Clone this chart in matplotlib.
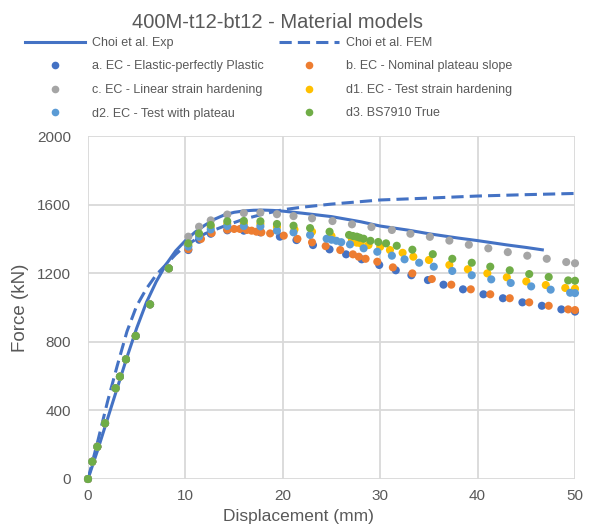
import numpy as np
import matplotlib
matplotlib.use("Agg")
import matplotlib.pyplot as plt
from matplotlib.lines import Line2D

plt.rcParams['font.family'] = ['Liberation Sans', 'DejaVu Sans']

# ---------------- data ----------------
exp_x = [0, 1, 2, 3, 4, 5, 6, 7, 8, 9, 10, 11, 12, 13, 14, 15, 16, 17, 18, 19, 20,
         22, 25, 28, 30, 33, 35, 38, 40, 43, 45, 46.8]
exp_F = [0, 170, 350, 530, 710, 880, 1030, 1150, 1250, 1330, 1390, 1440, 1480, 1515,
         1540, 1555, 1563, 1567, 1568, 1566, 1562, 1550, 1530, 1500, 1475, 1450, 1430,
         1405, 1390, 1365, 1350, 1335]

fem_x = [0, 1, 2, 3, 4, 5, 6, 7, 8, 9, 10, 12, 14, 16, 18, 20, 22, 25, 30, 35, 40, 45, 50]
fem_F = [0, 220, 450, 660, 860, 1010, 1110, 1190, 1250, 1310, 1360, 1430, 1475, 1515,
         1545, 1570, 1585, 1603, 1627, 1638, 1650, 1658, 1665]

rise_x = [0, 0.44, 0.96, 1.75, 2.84, 3.28, 3.9, 4.9, 6.37, 8.3]
rise_F = [0, 101, 188, 325, 529, 597, 698, 834, 1018, 1228]

a_x = [10.3, 11.4, 12.6, 14.3, 16.0, 17.7, 19.7, 21.4, 23.1, 24.8, 26.5, 28.1, 29.9,
       31.6, 33.2, 34.9, 36.5, 38.5, 40.6, 42.6, 44.6, 46.6, 48.6, 50.0]
a_F = [1335, 1395, 1430, 1450, 1448, 1438, 1413, 1393, 1364, 1339, 1310, 1281, 1248,
       1217, 1188, 1160, 1133, 1106, 1077, 1054, 1030, 1010, 989, 976]

b_x = [10.3, 11.6, 12.7, 14.3, 15.0, 15.6, 16.3, 16.8, 17.3, 17.8, 18.7, 20.1, 21.5,
       23.0, 24.4, 25.9, 27.2, 27.8, 28.5, 29.7, 31.3, 33.3, 35.3, 37.3, 39.3, 41.3,
       43.3, 45.3, 47.3, 49.3, 50.0]
b_F = [1340, 1400, 1434, 1454, 1458, 1458, 1452, 1448, 1442, 1438, 1432, 1419, 1400,
       1380, 1358, 1335, 1310, 1296, 1284, 1267, 1234, 1199, 1166, 1133, 1106, 1077,
       1054, 1030, 1010, 989, 985]

c_x = [10.3, 11.4, 12.6, 14.3, 16.0, 17.7, 19.4, 21.1, 23.0, 25.1, 27.1, 29.1, 31.2,
       33.1, 35.1, 37.1, 39.1, 41.1, 43.1, 45.1, 47.1, 49.1, 50.0]
c_F = [1413, 1471, 1508, 1542, 1551, 1554, 1544, 1533, 1520, 1504, 1485, 1469, 1452,
       1430, 1412, 1390, 1366, 1345, 1323, 1302, 1284, 1265, 1258]

d1_x = [10.3, 11.4, 12.6, 14.3, 16.0, 17.7, 19.4, 21.2, 23.0, 25.0, 27.1, 27.6, 28.0,
        28.8, 30.0, 31.0, 32.3, 33.4, 35.0, 37.1, 39.0, 41.0, 43.0, 45.0, 47.0, 49.0, 50.0]
d1_F = [1362, 1420, 1470, 1488, 1490, 1488, 1470, 1455, 1442, 1417, 1393, 1378, 1374,
        1364, 1354, 1335, 1319, 1296, 1277, 1248, 1223, 1199, 1176, 1152, 1131, 1114, 1110]

d2_x = [10.3, 11.4, 12.6, 14.3, 16.0, 17.7, 19.4, 21.1, 22.8, 24.5, 25.0, 25.5, 26.0,
        26.9, 28.3, 29.7, 31.2, 32.5, 34.0, 35.5, 37.4, 39.4, 41.4, 43.4, 45.5, 47.5,
        49.5, 50.0]
d2_F = [1355, 1413, 1455, 1475, 1475, 1473, 1448, 1438, 1423, 1401, 1395, 1389, 1381,
        1368, 1345, 1325, 1302, 1281, 1261, 1238, 1213, 1188, 1164, 1143, 1123, 1104,
        1086, 1084]

d3_x = [10.3, 11.4, 12.6, 14.3, 16.0, 17.7, 19.4, 21.1, 22.8, 24.8, 26.8, 27.2, 27.6,
        27.9, 28.3, 29.0, 29.8, 30.6, 31.7, 33.3, 35.4, 37.4, 39.4, 41.3, 43.3, 45.3,
        47.3, 49.3, 50.0]
d3_F = [1374, 1432, 1481, 1503, 1505, 1503, 1487, 1477, 1463, 1442, 1423, 1417, 1413,
        1407, 1401, 1389, 1382, 1374, 1360, 1337, 1311, 1284, 1261, 1238, 1217, 1195,
        1178, 1158, 1156]

labels = ["Choi et al. Exp", "Choi et al. FEM",
          "a. EC - Elastic-perfectly Plastic", "b. EC - Nominal plateau slope",
          "c. EC - Linear strain hardening", "d1. EC - Test strain hardening",
          "d2. EC - Test with plateau", "d3. BS7910 True"]
x_ticks = [0, 10, 20, 30, 40, 50]
y_ticks = [0, 400, 800, 1200, 1600, 2000]
title = "400M-t12-bt12 - Material models"

# ---------------- style ----------------
line_c = "#4472C4"
colors = ["#4472C4", "#ED7D31", "#A5A5A5", "#FFC000", "#5B9BD5", "#70AD47"]
txt_c = "#595959"

fig = plt.figure(figsize=(5.91, 5.25), dpi=100)
ax = fig.add_axes([88/591, 46/525, 487/591, 343/525])

ax.plot(exp_x, exp_F, color=line_c, lw=2.2, solid_capstyle='butt', zorder=3)
ax.plot(fem_x, fem_F, color=line_c, lw=2.2, dashes=(4, 2), zorder=3)

series = [(a_x, a_F), (b_x, b_F), (c_x, c_F), (d1_x, d1_F), (d2_x, d2_F), (d3_x, d3_F)]
for i, (sx, sF) in enumerate(series):
    xs = list(rise_x) + list(sx)
    Fs = list(rise_F) + list(sF)
    ax.scatter(xs, Fs, s=34, color=colors[i], edgecolors='none', zorder=4 + i,
               clip_on=False)

ax.set_xlim(0, 50)
ax.set_ylim(0, 2000)
ax.set_xticks(x_ticks)
ax.set_yticks(y_ticks)
ax.tick_params(length=0, labelsize=11, colors=txt_c)
ax.tick_params(axis='x', pad=7)
ax.tick_params(axis='y', pad=12)
for s in ax.spines.values():
    s.set_visible(False)
ax.grid(True, color="#D9D9D9", lw=1.3)
ax.set_axisbelow(True)

ax.set_xlabel("Displacement (mm)", fontsize=12.5, color=txt_c)
ax.xaxis.label.set_va('bottom')
ax.xaxis.set_label_coords((298-88)/487, (479-524.5)/343)
ax.set_ylabel("Force (kN)", fontsize=13.5, color=txt_c)
ax.yaxis.set_label_coords((29-88)/487, 0.5)

fig.text(278/591, 1 - 23/525, title, ha='center', va='center', fontsize=14.5, color=txt_c)

h_exp = Line2D([], [], color=line_c, lw=2.2)
h_fem = Line2D([], [], color=line_c, lw=2.2, dashes=(4, 2))
h_pts = [Line2D([], [], ls='none', marker='o', ms=5.5, color=c, mec='none') for c in colors]
handles = [h_exp, h_pts[0], h_pts[2], h_pts[4], h_fem, h_pts[1], h_pts[3], h_pts[5]]
labs = [labels[0], labels[2], labels[4], labels[6], labels[1], labels[3], labels[5], labels[7]]
leg = fig.legend(handles, labs, ncol=2, loc='upper left', bbox_to_anchor=(25/591, 1 - 37/525),
                 frameon=False, fontsize=9, handlelength=4.8, handletextpad=0.55,
                 columnspacing=1.25, labelspacing=0.92, borderaxespad=0, borderpad=0)
for t in leg.get_texts():
    t.set_color(txt_c)

fig.savefig("out.png", dpi=100)
